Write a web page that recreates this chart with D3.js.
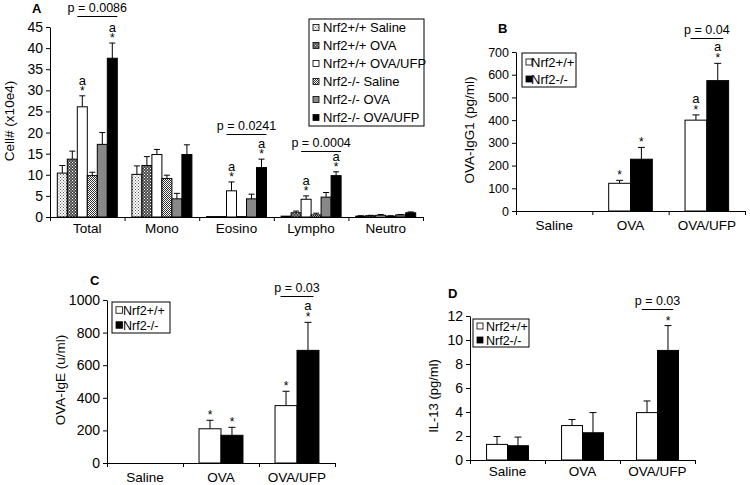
<!DOCTYPE html>
<html><head><meta charset="utf-8">
<script src="https://cdn.jsdelivr.net/npm/d3@7"></script>
<style>
body{margin:0;background:#fff;}
svg{display:block;font-family:"Liberation Sans",Arial,sans-serif;}
</style></head>
<body><svg id="c" width="750" height="485"></svg>
<script>
// ---------- Panel A data ----------
const catsA = ["Total","Mono","Eosino","Lympho","Neutro"];
const groupsA = ["Nrf2+/+ Saline","Nrf2+/+ OVA","Nrf2+/+ OVA/UFP","Nrf2-/- Saline","Nrf2-/- OVA","Nrf2-/- OVA/UFP"];
const aWtSaline    = [10.4, 10.1, 0.1, 0.2, 0.2];
const aWtOva       = [13.7, 12.2, 0.1, 1.0, 0.3];
const aWtUfp       = [26.1, 14.8, 6.2, 4.2, 0.4];
const aKoSaline    = [9.8, 9.1, 0.1, 0.5, 0.2];
const aKoOva       = [17.2, 4.3, 4.3, 4.7, 0.5];
const aKoUfp       = [37.6, 14.8, 11.7, 9.8, 1.0];
const aWtSalineErr = [1.8, 2.0, 0, 0, 0.1];
const aWtOvaErr    = [1.9, 2.1, 0, 0.4, 0.1];
const aWtUfpErr    = [2.6, 1.2, 2.1, 0.8, 0.2];
const aKoSalineErr = [0.8, 0.8, 0, 0.4, 0.1];
const aKoOvaErr    = [2.8, 1.3, 1.1, 1.1, 0.1];
const aKoUfpErr    = [3.6, 2.3, 2.0, 0.9, 0.2];
const ticksA = [0,5,10,15,20,25,30,35,40,45];
const marksA = [["Total",2,"a*"],["Total",5,"a*"],["Eosino",2,"a*"],["Eosino",5,"a*"],["Lympho",2,"a*"],["Lympho",5,"a*"]];
const pvalsA = [["Total",2,5,47.6,"p = 0.0086"],["Eosino",2,5,19.6,"p = 0.0241"],["Lympho",2,5,15.7,"p = 0.0004"]];

// ---------- Panels B, C, D data ----------
const groupsBCD = ["Nrf2+/+","Nrf2-/-"];
const catsBCD = ["Saline","OVA","OVA/UFP"];
const bWt = [0, 122, 400];   const bWtErr = [0, 13, 23];
const bKo = [0, 228, 574];   const bKoErr = [0, 52, 76];
const ticksB = [0,100,200,300,400,500,600,700];
const marksB = [["OVA",0,"*"],["OVA",1,"*"],["OVA/UFP",0,"a*"],["OVA/UFP",1,"a*"]];
const pvalsB = [["OVA/UFP",0,1,762,"p = 0.04"]];

const cWt = [0, 210, 352];   const cWtErr = [0, 52, 88];
const cKo = [0, 170, 691];   const cKoErr = [0, 49, 172];
const ticksC = [0,200,400,600,800,1000];
const marksC = [["OVA",0,"*"],["OVA",1,"*"],["OVA/UFP",0,"*"],["OVA/UFP",1,"a*"]];
const pvalsC = [["OVA/UFP",0,1,1025,"p = 0.03"]];

const dWt = [1.3, 2.87, 3.95];  const dWtErr = [0.66, 0.5, 0.97];
const dKo = [1.19, 2.27, 9.13]; const dKoErr = [0.72, 1.68, 2.07];
const ticksD = [0,2,4,6,8,10,12];
const marksD = [["OVA/UFP",1,"*"]];
const pvalsD = [["OVA/UFP",0,1,12.55,"p = 0.03"]];

// ---------- drawing ----------
const svg = d3.select("#c");
const defs = svg.append("defs");
function pat(id, w, bg, dots, dotColor){
  const p = defs.append("pattern").attr("id",id).attr("width",w).attr("height",w).attr("patternUnits","userSpaceOnUse");
  p.append("rect").attr("width",w).attr("height",w).attr("fill",bg);
  dots.forEach(d=>p.append("rect").attr("x",d[0]).attr("y",d[1]).attr("width",1).attr("height",1).attr("fill",dotColor));
}
pat("p1",3,"#fff",[[0,0],[1.5,1.5]],"#555");
pat("p2",3,"#4a4a4a",[[0,0],[1.5,1.5]],"#fff");
pat("p4",2,"#fff",[[0,0],[1,1]],"#333");

const fillsA = ["url(#p1)","url(#p2)","#fff","url(#p4)","#888","#000"];
const fillsBCD = ["#fff","#000"];

function drawPanel(p){
  const g = svg.append("g");
  const y = d3.scaleLinear().domain([0,p.max]).range([p.yB,p.yT]);
  const x = d3.scaleBand().domain(p.cats).range([p.x0,p.x1]);
  const xi = d3.scaleBand().domain(d3.range(p.groups.length)).range([0,x.bandwidth()]).paddingInner(0).paddingOuter(p.pad);
  const bw = xi.bandwidth();
  const rows = [];
  p.values.forEach((vals,gi)=>vals.forEach((v,ci)=>rows.push({gi,cat:p.cats[ci],v,e:p.errs[gi][ci]})));
  const bx = (cat,gi)=>x(cat)+xi(gi);
  const eb = rows.filter(d=>d.e>0);
  g.selectAll(".ev").data(eb).join("line")
    .attr("x1",d=>bx(d.cat,d.gi)+bw/2).attr("x2",d=>bx(d.cat,d.gi)+bw/2)
    .attr("y1",d=>y(d.v)).attr("y2",d=>y(d.v+d.e)).attr("stroke","#000").attr("stroke-width",1);
  g.selectAll(".ec").data(eb).join("line")
    .attr("x1",d=>bx(d.cat,d.gi)+bw/2-p.cap).attr("x2",d=>bx(d.cat,d.gi)+bw/2+p.cap)
    .attr("y1",d=>y(d.v+d.e)).attr("y2",d=>y(d.v+d.e)).attr("stroke","#000").attr("stroke-width",1);
  g.selectAll(".bar").data(rows.filter(d=>d.v>0)).join("rect")
    .attr("x",d=>bx(d.cat,d.gi)).attr("width",bw)
    .attr("y",d=>y(d.v)).attr("height",d=>Math.max(0.5,y(0)-y(d.v)))
    .attr("fill",d=>p.fills[d.gi]).attr("stroke","#000").attr("stroke-width",1);
  const ya = g.append("g").attr("transform",`translate(${p.x0},0)`)
    .call(d3.axisLeft(y).tickValues(p.ticks).tickFormat(d=>String(d)).tickSize(4).tickSizeOuter(0).tickPadding(3));
  ya.selectAll("text").attr("font-size",p.tickFont).attr("fill","#000").attr("font-family","Liberation Sans, Arial, sans-serif");
  ya.selectAll("path,line").attr("stroke","#000");
  const xb = d3.scaleLinear().domain([0,p.cats.length]).range([p.x0,p.x1]);
  const xa = g.append("g").attr("transform",`translate(0,${p.yB})`)
    .call(d3.axisBottom(xb).tickValues(d3.range(p.cats.length+1)).tickSize(4).tickSizeOuter(0).tickFormat(""));
  xa.selectAll("path,line").attr("stroke","#000");
  g.selectAll(".cl").data(p.cats).join("text")
    .attr("x",c=>x(c)+x.bandwidth()/2).attr("y",p.yB+p.catDy)
    .attr("text-anchor","middle").attr("font-size",p.catFont).text(c=>c);
  p.marks.forEach(m=>{
    const gi=m[1], ci=p.cats.indexOf(m[0]);
    const top = y(p.values[gi][ci]+p.errs[gi][ci]);
    const cx = bx(m[0],gi)+bw/2;
    g.append("text").attr("x",cx).attr("y",top+p.starDy).attr("text-anchor","middle").attr("font-size",p.markFont).text("*");
    if(m[2]==="a*") g.append("text").attr("x",cx).attr("y",top+p.aDy).attr("text-anchor","middle").attr("font-size",p.markFont+1).text("a");
  });
  p.pvals.forEach(q=>{
    const x1 = bx(q[0],q[1])+bw*p.pInset, x2 = bx(q[0],q[2])+bw*(1-p.pInset);
    const yy = Math.round(y(q[3]))+0.5;
    g.append("line").attr("x1",x1).attr("x2",x2).attr("y1",yy).attr("y2",yy).attr("stroke","#000");
    g.append("text").attr("x",(x1+x2)/2).attr("y",yy-4.5).attr("text-anchor","middle").attr("font-size",p.pFont).text(q[4]);
  });
  const L = p.legend;
  g.append("rect").attr("x",L.x).attr("y",L.y).attr("width",L.w).attr("height",L.h).attr("fill","#fff").attr("stroke","#000");
  p.groups.forEach((name,i)=>{
    const cy = L.y+L.first+i*L.row;
    g.append("rect").attr("x",L.x+4).attr("y",cy-L.sw/2).attr("width",L.sw).attr("height",L.sw).attr("fill",p.fills[i]).attr("stroke","#000").attr("stroke-width",0.8);
    g.append("text").attr("x",L.x+L.tx).attr("y",cy+L.font*0.36).attr("font-size",L.font).text(name);
  });
  g.append("text").attr("transform",`translate(${p.ylx},${p.yly}) rotate(-90)`).attr("text-anchor","middle").attr("font-size",p.ylFont).text(p.ylabel);
  g.append("text").attr("x",p.lx).attr("y",p.ly).attr("font-weight","bold").attr("font-size",13).text(p.letter);
}

drawPanel({cats:catsA,groups:groupsA,values:[aWtSaline,aWtOva,aWtUfp,aKoSaline,aKoOva,aKoUfp],
  errs:[aWtSalineErr,aWtOvaErr,aWtUfpErr,aKoSalineErr,aKoOvaErr,aKoUfpErr],fills:fillsA,
  max:45,ticks:ticksA,x0:50,x1:423,yB:217,yT:27,pad:0.73,cap:3,tickFont:14,catFont:13.5,catDy:16,
  marks:marksA,markFont:12,starDy:-1,aDy:-11,pvals:pvalsA,pInset:0,pFont:12.5,
  legend:{x:309,y:19,w:115,h:107,first:8.5,row:18,sw:6,tx:14,font:13},
  ylabel:"Cell# (x10e4)",ylx:14,yly:121,ylFont:13.5,letter:"A",lx:32,ly:13});

drawPanel({cats:catsBCD,groups:groupsBCD,values:[bWt,bKo],errs:[bWtErr,bKoErr],fills:fillsBCD,
  max:700,ticks:ticksB,x0:516,x1:745,yB:211,yT:52,pad:0.75,cap:3.5,tickFont:12.5,catFont:13.5,catDy:19,
  marks:marksB,markFont:12,starDy:-1,aDy:-12,pvals:pvalsB,pInset:0.25,pFont:12.5,
  legend:{x:522,y:53,w:54,h:34,first:9,row:17,sw:6,tx:9,font:13},
  ylabel:"OVA-IgG1 (pg/ml)",ylx:474,yly:130,ylFont:13.5,letter:"B",lx:498,ly:33});

drawPanel({cats:catsBCD,groups:groupsBCD,values:[cWt,cKo],errs:[cWtErr,cKoErr],fills:fillsBCD,
  max:1000,ticks:ticksC,x0:107,x1:335,yB:463,yT:300,pad:0.73,cap:3.5,tickFont:14,catFont:13.5,catDy:19,
  marks:marksC,markFont:12,starDy:-1,aDy:-12,pvals:pvalsC,pInset:0.25,pFont:12.5,
  legend:{x:112,y:302,w:58,h:31,first:8,row:15,sw:6.5,tx:11,font:12.5},
  ylabel:"OVA-IgE (u/ml)",ylx:65,yly:380,ylFont:13.5,letter:"C",lx:90,ly:285});

drawPanel({cats:catsBCD,groups:groupsBCD,values:[dWt,dKo],errs:[dWtErr,dKoErr],fills:fillsBCD,
  max:12,ticks:ticksD,x0:470,x1:695,yB:460,yT:316,pad:0.79,cap:3.5,tickFont:14,catFont:13.5,catDy:16,
  marks:marksD,markFont:12,starDy:-1,aDy:-12,pvals:pvalsD,pInset:0.25,pFont:12.5,
  legend:{x:473,y:319,w:56,h:28,first:7,row:14,sw:6,tx:13,font:12.5},
  ylabel:"IL-13 (pg/ml)",ylx:438,yly:396,ylFont:13,letter:"D",lx:448,ly:298});
</script></body></html>
